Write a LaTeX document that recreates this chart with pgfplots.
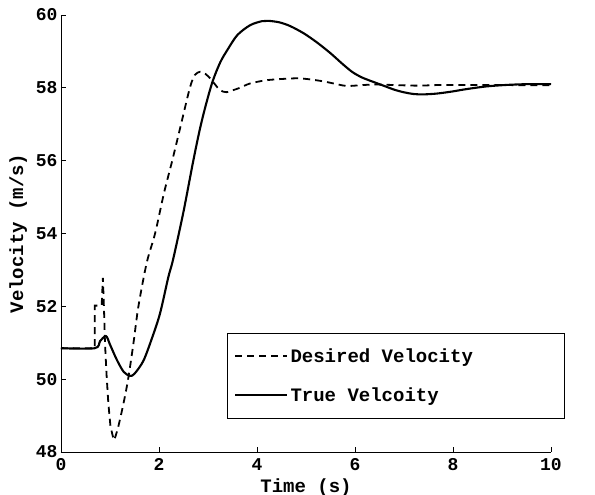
\documentclass[border=0pt]{standalone}
\usepackage{fontspec}
\setmainfont{Liberation Mono}
\usepackage{pgfplots}
\pgfplotsset{compat=1.18}
\begin{document}
\begin{tikzpicture}
\begin{axis}[
  scale only axis,
  width=490pt, height=437pt,
  xmin=0, xmax=10, ymin=48, ymax=60,
  xtick={0,2,...,10}, ytick={48,50,...,60},
  axis x line*=bottom, axis y line*=left,
  axis line style={-, line width=0.8pt},
  tick align=inside,
  major tick length=5pt,
  tick style={line width=0.8pt, black},
  /pgf/number format/assume math mode=true,
  ticklabel style={font=\fontsize{18}{20}\selectfont\bfseries},
  xticklabel style={yshift=-3pt},
  label style={font=\fontsize{19}{21}\selectfont\bfseries},
  xlabel={Time (s)}, ylabel={Velocity (m/s)},
  xlabel style={yshift=-1pt},
  ylabel style={yshift=2pt},
  legend style={at={(0.3388,0.2723)}, anchor=north west, draw=black, line width=0.8pt,
    font=\fontsize{19}{21}\selectfont\bfseries, row sep=20pt, inner xsep=7pt, inner ysep=13pt},
  legend cell align=left,
  legend image code/.code={\draw[#1] (0pt,0pt) -- (52pt,0pt);},
]
\addplot[black, line width=1.8pt, dash pattern=on 7pt off 5pt, forget plot] coordinates {
(0,50.85) (0.69,50.85) (0.69,52.02) (0.83,52.02) (0.855,52.78) (0.878,51.9) (0.898,50.98)
(0.932,50.07) (0.966,49.34) (1.01,48.7) (1.06,48.42) (1.1,48.38)
};
\addplot[black, line width=1.8pt, dash pattern=on 7pt off 5pt, smooth, tension=0.5] coordinates {
(1.1,48.38) (1.17,48.7) (1.27,49.3) (1.37,50.0) (1.48,51.0) (1.58,52.0) (1.75,53.2)
(1.92,54.0) (2.1,55.1) (2.27,56.0) (2.45,57.0) (2.63,58.0) (2.73,58.35) (2.84,58.44)
(2.95,58.38) (3.05,58.25) (3.14,58.1) (3.25,57.93) (3.38,57.88) (3.5,57.93) (3.65,58.0)
(3.86,58.12) (4.2,58.21) (4.6,58.25) (4.88,58.26) (5.2,58.21) (5.42,58.16) (5.63,58.1)
(5.83,58.05) (6.1,58.07) (6.44,58.09) (7.26,58.06) (7.9,58.08) (10,58.07)
};
\addlegendentry{\makebox[265pt][l]{Desired Velocity}}
\addplot[black, line width=2.1pt, smooth, tension=0.5] coordinates {
(0,50.85) (0.69,50.85) (0.8,51.05) (0.92,51.18) (1.0,50.95) (1.14,50.53) (1.28,50.2)
(1.41,50.09) (1.5,50.15) (1.68,50.5) (1.85,51.1) (2.02,51.8) (2.19,52.8) (2.29,53.3)
(2.5,54.6) (2.7,56.0) (2.84,56.9) (2.97,57.6) (3.1,58.2) (3.25,58.7) (3.4,59.05)
(3.6,59.45) (3.86,59.72) (4.1,59.83) (4.23,59.84) (4.45,59.8) (4.67,59.7) (4.95,59.5)
(5.22,59.25) (5.5,58.95) (5.75,58.65) (5.95,58.43) (6.15,58.28) (6.4,58.15) (6.6,58.05)
(6.8,57.95) (6.99,57.88) (7.2,57.83) (7.39,57.82) (7.65,57.84) (7.94,57.89) (8.3,57.97)
(8.69,58.04) (9.1,58.08) (9.5,58.1) (10,58.1)
};
\addlegendentry{\makebox[265pt][l]{True Velcoity}}
\end{axis}
\pgfresetboundingbox
\path[use as bounding box] (current axis.south west) ++(-61pt,-43pt) rectangle ++(595pt,495pt);
\end{tikzpicture}
\end{document}
